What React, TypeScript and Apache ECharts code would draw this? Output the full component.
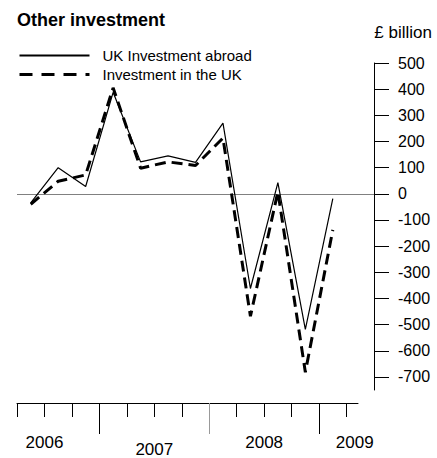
import React, { useEffect, useRef } from "react";
import * as echarts from "echarts";

const quarters = [
  "2006 Q2", "2006 Q3", "2006 Q4",
  "2007 Q1", "2007 Q2", "2007 Q3", "2007 Q4",
  "2008 Q1", "2008 Q2", "2008 Q3", "2008 Q4",
  "2009 Q1",
];
const ukInvestmentAbroad = [-35, 100, 28, 388, 122, 145, 120, 270, -362, 43, -518, -18];
const investmentInUK = [-40, 48, 72, 405, 98, 122, 108, 213, -468, 8, -682, -138];
const yTickValues = [500, 400, 300, 200, 100, 0, -100, -200, -300, -400, -500, -600, -700];
const years = ["2006", "2007", "2008", "2009"];

const FONT = "'Liberation Sans', Arial, sans-serif";

export default function App() {
  const ref = useRef<HTMLDivElement>(null);
  useEffect(() => {
    if (!ref.current) return;
    const chart = echarts.init(ref.current, undefined, { renderer: "svg" });
    const n = quarters.length;
    const qTicks = Array.from({ length: n + 1 }, (_, i) => i);
    const yearStart = qTicks.filter((i) => quarters[i] && quarters[i].endsWith("Q1"));
    const blackLong = yearStart.filter((_, k) => k !== 1);
    const greyLong = yearStart.filter((_, k) => k === 1);
    const labelPos = [1, 5, 9, 12.3];
    const toPts = (arr: number[]) => arr.map((v, i) => [i + 0.5, v]);
    const baseX = {
      gridIndex: 1,
      type: "value",
      min: 0,
      max: 12.418,
      position: "bottom",
      offset: 14,
      splitLine: { show: false },
    };
    chart.setOption({
      animation: false,
      backgroundColor: "#fff",
      title: [
        {
          text: "Other investment",
          left: 17,
          top: 11,
          padding: 0,
          textStyle: { fontFamily: FONT, fontSize: 18, fontWeight: "bold", color: "#000" },
        },
        {
          text: "£ billion",
          right: 5,
          top: 24,
          padding: 0,
          textStyle: { fontFamily: FONT, fontSize: 17, fontWeight: "normal", color: "#000" },
        },
      ],
      legend: {
        orient: "vertical",
        left: 18,
        top: 48,
        padding: 0,
        itemWidth: 70,
        itemHeight: 14,
        itemGap: 4,
        textStyle: { fontFamily: FONT, fontSize: 15, color: "#000", padding: [0, 0, 0, 8] },
        data: [
          {
            name: "UK Investment abroad",
            itemStyle: { opacity: 0 },
            lineStyle: { width: 2.2, type: "solid", color: "#000" },
          },
          {
            name: "Investment in the UK",
            itemStyle: { opacity: 0 },
            lineStyle: { width: 3, type: [13, 9], color: "#000" },
          },
        ],
      },
      grid: [
        { left: 17, right: 63, top: 63, bottom: 68 },
        { left: 17, right: 79, top: 63, bottom: 68 },
      ],
      xAxis: [
        { gridIndex: 0, type: "value", min: 0, max: 13, show: false, axisLine: { onZero: false } },
        {
          ...baseX,
          axisLine: { show: true, onZero: false, lineStyle: { color: "#000", width: 1 } },
          axisTick: { show: true, customValues: qTicks, length: 14, lineStyle: { color: "#000", width: 1 } },
          axisLabel: { show: false },
        },
        {
          ...baseX,
          axisLine: { show: false, onZero: false },
          axisTick: { show: true, customValues: blackLong, length: 31, lineStyle: { color: "#000", width: 1 } },
          axisLabel: { show: false },
        },
        {
          ...baseX,
          axisLine: { show: false, onZero: false },
          axisTick: { show: true, customValues: greyLong, length: 31, lineStyle: { color: "#999", width: 1 } },
          axisLabel: { show: false },
        },
        {
          ...baseX,
          axisLine: { show: false, onZero: false },
          axisTick: { show: false },
          axisLabel: {
            show: true,
            customValues: labelPos,
            margin: 31,
            fontFamily: FONT,
            fontSize: 17,
            color: "#000",
            formatter: (v: number) => {
              const idx = Math.round((v - 1) / 4);
              return idx === 1 ? `{low|${years[idx]}}` : years[idx];
            },
            rich: { low: { fontFamily: FONT, fontSize: 17, color: "#000", padding: [7, 0, 0, 0] } },
          },
        },
      ],
      yAxis: [
        {
          gridIndex: 0,
          type: "value",
          position: "right",
          min: -750,
          max: 500,
          splitLine: { show: false },
          axisLine: { show: true, onZero: false, lineStyle: { color: "#000", width: 1 } },
          axisTick: { show: true, customValues: yTickValues, length: 15, inside: false, lineStyle: { color: "#000", width: 1 } },
          axisLabel: {
            show: true,
            customValues: yTickValues,
            margin: 24,
            fontFamily: FONT,
            fontSize: 16,
            color: "#000",
            align: "left",
          },
        },
        { gridIndex: 1, type: "value", min: -750, max: 500, show: false, axisLine: { onZero: false } },
      ],
      series: [
        {
          name: "UK Investment abroad",
          type: "line",
          xAxisIndex: 0,
          yAxisIndex: 0,
          data: toPts(ukInvestmentAbroad),
          symbol: "none",
          lineStyle: { color: "#000", width: 1.2, type: "solid" },
          itemStyle: { color: "#000" },
          z: 3,
          markLine: {
            silent: true,
            symbol: ["none", "none"],
            label: { show: false },
            lineStyle: { color: "#808080", width: 1, type: "solid" },
            data: [{ yAxis: 0 }],
            z: 1,
          },
        },
        {
          name: "Investment in the UK",
          type: "line",
          xAxisIndex: 0,
          yAxisIndex: 0,
          data: toPts(investmentInUK),
          symbol: "none",
          lineStyle: { color: "#000", width: 3, type: [11, 6] },
          itemStyle: { color: "#000" },
          z: 4,
        },
      ],
    });
    return () => chart.dispose();
  }, []);
  return (
    <div
      ref={ref}
      style={{ position: "fixed", left: 0, top: 0, width: 437, height: 458, background: "#fff" }}
    />
  );
}
